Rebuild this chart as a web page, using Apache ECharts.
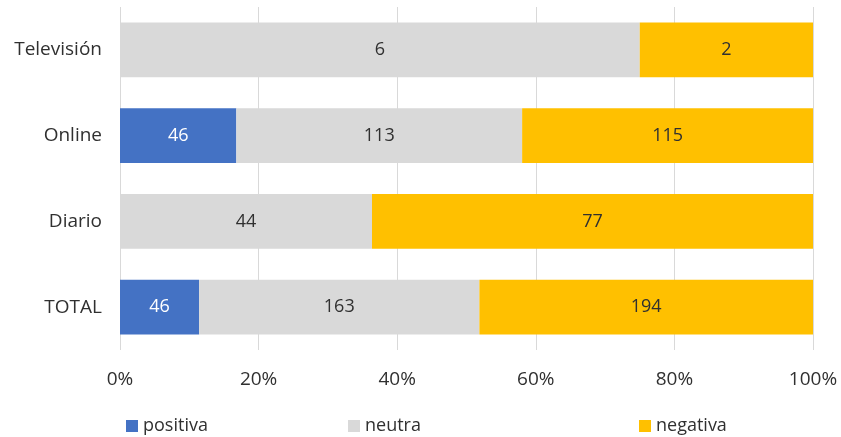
<!DOCTYPE html>
<html><head><meta charset="utf-8">
<script src="https://cdn.jsdelivr.net/npm/echarts@6/dist/echarts.min.js"></script>
<style>html,body{margin:0;padding:0;background:#fff}#c{width:841px;height:437px}</style>
</head><body><div id="c"></div>
<script>
const categories = ['Televisión', 'Online', 'Diario', 'TOTAL'];
const positiva = [0, 46, 0, 46];
const neutra = [6, 113, 44, 163];
const negativa = [2, 115, 77, 194];
const seriesNames = ['positiva', 'neutra', 'negativa'];
const colors = ['#4472C4', '#D9D9D9', '#FFC000'];

const totals = categories.map((_, i) => positiva[i] + neutra[i] + negativa[i]);
const raw = [positiva, neutra, negativa];
const font = '"Open Sans", "Liberation Sans", sans-serif';

const chart = echarts.init(document.getElementById('c'));
const series = raw.map((arr, s) => ({
  name: seriesNames[s],
  type: 'bar',
  stack: 'all',
  barCategoryGap: '36%',
  itemStyle: { color: colors[s] },
  label: {
    show: true,
    position: 'inside',
    color: s === 0 ? '#ffffff' : '#303030',
    fontSize: 18,
    fontFamily: font,
    formatter: p => arr[p.dataIndex] === 0 ? '' : String(arr[p.dataIndex])
  },
  data: arr.map((v, i) => v === 0 ? null : v / totals[i] * 100)
}));

const legendLefts = [121, 343, 634];
chart.setOption({
  animation: false,
  grid: { left: 120, right: 28, top: 7, bottom: 87 },
  legend: seriesNames.map((n, i) => ({
    data: [n], left: legendLefts[i], top: 412, itemWidth: 12, itemHeight: 12, icon: 'rect', itemGap: 6,
    textStyle: { fontSize: 18, color: '#303030', fontFamily: font }
  })),
  xAxis: {
    type: 'value', min: 0, max: 100, interval: 20,
    axisLabel: { formatter: '{value}%', fontSize: 19, color: '#303030', fontFamily: font, margin: 20 },
    axisLine: { show: false }, axisTick: { show: false },
    splitLine: { show: true, lineStyle: { color: '#D9D9D9', width: 1 } }
  },
  yAxis: {
    type: 'category', data: categories, inverse: true,
    axisLabel: { fontSize: 19, color: '#303030', fontFamily: font, margin: 18 },
    axisLine: { show: false }, axisTick: { show: false }
  },
  series
});
</script></body></html>
